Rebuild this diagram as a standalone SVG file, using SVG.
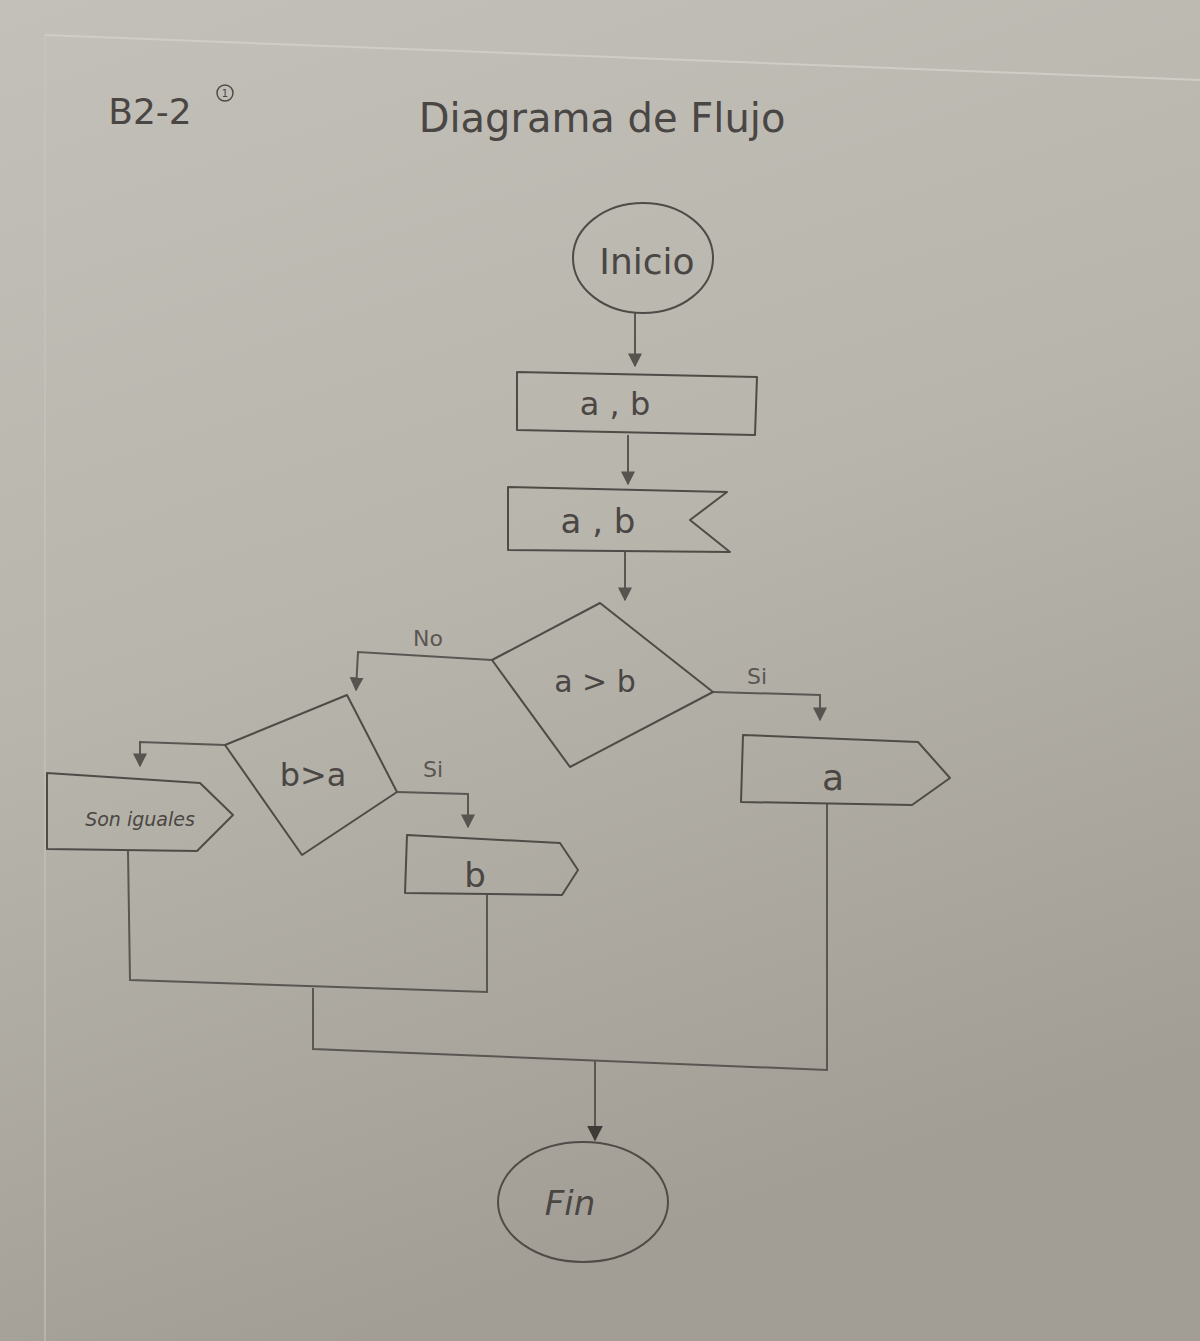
<svg xmlns="http://www.w3.org/2000/svg" width="1200" height="1341" viewBox="0 0 1200 1341">
<defs>
<linearGradient id="paper" x1="0" y1="0" x2="0.3" y2="1">
<stop offset="0" stop-color="#c3c0b9"/>
<stop offset="0.5" stop-color="#b8b5ad"/>
<stop offset="1" stop-color="#a29e96"/>
</linearGradient>
<marker id="arr" viewBox="0 0 10 10" refX="9" refY="5" markerWidth="7" markerHeight="7" orient="auto">
<path d="M0,0 L10,5 L0,10 z" fill="#57534f"/>
</marker>
<marker id="arrBig" viewBox="0 0 10 10" refX="9" refY="5" markerWidth="8" markerHeight="11" orient="auto">
<path d="M0,0 L10,5 L0,10 z" fill="#3d3a37"/>
</marker>
</defs>
<style>
.shape{fill:none;stroke:#4f4b47;stroke-width:2;stroke-linejoin:round}
.line{fill:none;stroke:#5a5652;stroke-width:2}
.txt{font-family:"DejaVu Sans","Liberation Sans",sans-serif;fill:#4a4643;text-anchor:middle}
.lbl{font-family:"DejaVu Sans","Liberation Sans",sans-serif;fill:#5a5652;text-anchor:middle;font-size:22px}
</style>
<rect x="0" y="0" width="1200" height="1341" fill="url(#paper)"/>
<path d="M45,35 L1200,80" stroke="#d0cdc6" stroke-width="2" fill="none"/>
<path d="M45,35 L45,1341" stroke="#c9c6bf" stroke-width="1" fill="none"/>

<g id="header">
<text x="150" y="124" class="txt" font-size="36">B2-2</text>
<circle cx="225" cy="93" r="8" fill="none" stroke="#4f4b47" stroke-width="1.5"/>
<text x="225" y="97" class="txt" font-size="10">1</text>
<text x="602" y="132" class="txt" font-size="40">Diagrama de Flujo</text>
</g>

<g id="connectors">
<line x1="635" y1="313" x2="635" y2="366" class="line" marker-end="url(#arr)"/>
<line x1="628" y1="435" x2="628" y2="484" class="line" marker-end="url(#arr)"/>
<line x1="625" y1="552" x2="625" y2="600" class="line" marker-end="url(#arr)"/>
<polyline points="492,660 358,652 356,690" class="line" marker-end="url(#arr)"/>
<polyline points="713,692 820,695 820,720" class="line" marker-end="url(#arr)"/>
<polyline points="225,745 140,742 140,766" class="line" marker-end="url(#arr)"/>
<polyline points="397,792 468,794 468,827" class="line" marker-end="url(#arr)"/>
<polyline points="128,851 130,980 487,992 487,895" class="line"/>
<polyline points="313,988 313,1049 827,1070 827,803" class="line"/>
<line x1="595" y1="1060" x2="595" y2="1140" class="line" marker-end="url(#arrBig)"/>
<text x="428" y="646" class="lbl">No</text>
<text x="757" y="684" class="lbl">Si</text>
<text x="433" y="777" class="lbl">Si</text>
</g>

<g id="inicio">
<ellipse cx="643" cy="258" rx="70" ry="55" class="shape"/>
<text x="647" y="274" class="txt" font-size="36">Inicio</text>
</g>

<g id="entrada">
<polygon points="517,372 757,377 755,435 517,430" class="shape"/>
<text x="615" y="415" class="txt" font-size="32">a , b</text>
</g>

<g id="lectura">
<polygon points="508,487 727,492 690,520 730,552 508,550" class="shape"/>
<text x="598" y="533" class="txt" font-size="34">a , b</text>
</g>

<g id="dec1">
<polygon points="600,603 713,692 570,767 492,660" class="shape"/>
<text x="595" y="692" class="txt" font-size="30">a &gt; b</text>
</g>

<g id="dec2">
<polygon points="347,695 397,792 302,855 225,745" class="shape"/>
<text x="313" y="786" class="txt" font-size="32">b&gt;a</text>
</g>

<g id="out-iguales">
<polygon points="47,773 200,783 233,815 197,851 47,849" class="shape"/>
<text x="140" y="826" class="txt" font-size="19" font-style="italic">Son iguales</text>
</g>

<g id="out-b">
<polygon points="407,835 560,843 578,870 562,895 405,893" class="shape"/>
<text x="475" y="887" class="txt" font-size="34">b</text>
</g>

<g id="out-a">
<polygon points="743,735 918,742 950,778 912,805 741,802" class="shape"/>
<text x="833" y="790" class="txt" font-size="36">a</text>
</g>

<g id="fin">
<ellipse cx="583" cy="1202" rx="85" ry="60" class="shape"/>
<text x="570" y="1215" class="txt" font-size="34" font-style="italic">Fin</text>
</g>
</svg>
